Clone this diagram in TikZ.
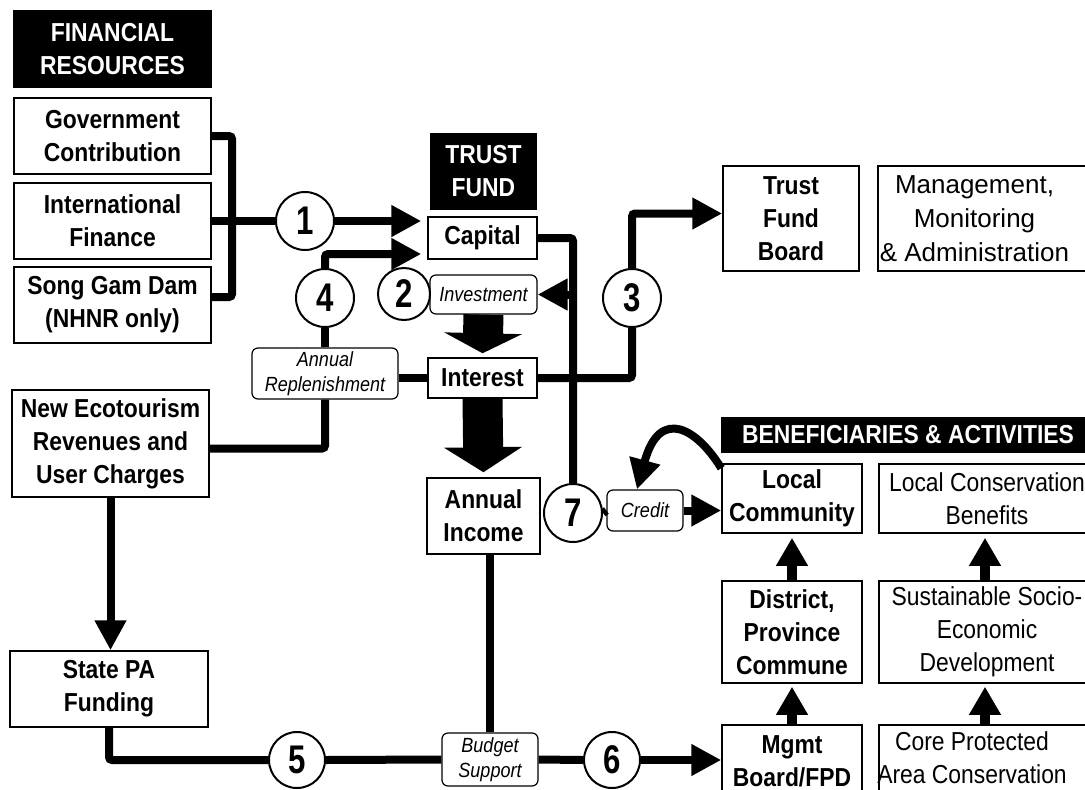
\documentclass[tikz,border=0pt]{standalone}
\usepackage{fontspec}
\setmainfont{Liberation Sans}[FakeStretch=0.88]
\newfontfamily\numfont{Liberation Sans}[FakeStretch=0.78]
\newfontfamily\widefont{Liberation Sans}
\usetikzlibrary{arrows.meta,calc}

\begin{document}
\begin{tikzpicture}[x=1pt,y=-1pt]
\useasboundingbox (0,0) rectangle (1085,790);
\clip (0,0) rectangle (1085,790);
\begin{scope}[
    bbox/.style={draw, line width=1.5pt, fill=white, inner sep=0pt, align=center, font=\fontsize{26}{33}\selectfont\bfseries},
    pbox/.style={draw, line width=1.5pt, fill=white, inner sep=0pt, align=center, font=\fontsize{26}{33}\selectfont},
    hbox/.style={fill=black, text=white, inner sep=0pt, align=center, font=\fontsize{26}{33}\selectfont\bfseries},
    ibox/.style={draw, line width=1.2pt, rounded corners=6pt, fill=white, inner sep=0pt, align=center, font=\fontsize{20.5}{25}\selectfont\itshape},
    numc/.style={circle, draw, line width=2pt, fill=white, minimum size=58pt, inner sep=0pt, font=\numfont\fontsize{40}{40}\selectfont\bfseries},
    conn/.style={line width=8pt, rounded corners=3pt},
    tip/.style={-{Triangle[length=30pt,width=30pt]}},
    uptip/.style={line width=10pt, -{Triangle[length=28pt,width=30pt]}},
    fat/.style={line width=40pt, -{Triangle[length=#1,width=77pt]}},
    fat/.default=22pt
]
% Financial resources
\node[hbox, minimum width=199pt, minimum height=78pt] (finres) at (112.5,49) {FINANCIAL\\RESOURCES};
\node[bbox, minimum width=197pt, minimum height=76pt] (gov) at (112.5,136) {Government\\Contribution};
\node[bbox, minimum width=197pt, minimum height=76pt] (intl) at (112.5,221) {International\\Finance};
\node[bbox, minimum width=197pt, minimum height=76pt] (dam) at (112.5,305) {Song Gam Dam\\(NHNR only)};
\node[bbox, minimum width=197pt, minimum height=107pt] (eco) at (110.5,443.5) {New Ecotourism\\Revenues and\\User Charges};
\node[bbox, minimum width=198pt, minimum height=76pt] (state) at (109,689) {State PA\\Funding};

% Trust fund
\node[hbox, minimum width=107pt, minimum height=77pt] (trust) at (483.5,171.5) {TRUST\\FUND};
\node[bbox, minimum width=109pt, minimum height=42pt] (capital) at (482.5,238) {Capital};
\node[ibox, minimum width=107pt, minimum height=39pt] (invest) at (483.5,294.5) {Investment};
\node[bbox, minimum width=109pt, minimum height=40pt] (interest) at (482.5,378) {Interest};
\node[bbox, minimum width=113pt, minimum height=76pt] (income) at (483.5,516) {Annual\\Income};
\node[ibox, minimum width=146pt, minimum height=51pt] (repl) at (325,373.5) {Annual\\Replenishment};
\node[ibox, minimum width=96pt, minimum height=53pt] (budget) at (490,759.5) {Budget\\Support};
\node[ibox, minimum width=76pt, minimum height=41pt] (credit) at (645,510.5) {Credit};

% Board and beneficiaries
\node[bbox, minimum width=136pt, minimum height=105pt] (board) at (791,218.5) {Trust\\Fund\\Board};
\node[pbox, minimum width=217pt, minimum height=105pt] (manage) at (986.5,218.5) {};
\node[align=center, font=\widefont\fontsize{26}{34}\selectfont] at ([xshift=-12pt]manage.center) {Management,\\Monitoring\\\& Administration};
\node[hbox, minimum width=374pt, minimum height=36pt] (benef) at (908,435) {BENEFICIARIES \& ACTIVITIES};
\node[bbox, minimum width=140pt, minimum height=69pt] (local) at (792,498.5) {Local\\Community};
\node[bbox, minimum width=140pt, minimum height=102pt] (district) at (792,632) {District,\\Province\\Commune};
\node[bbox, minimum width=140pt, minimum height=72pt] (mboard) at (792,761) {Mgmt\\Board/FPD};
\node[pbox, minimum width=216pt, minimum height=69pt] (lcb) at (987,498.5) {Local Conservation\\Benefits};
\node[pbox, minimum width=216pt, minimum height=102pt] (socio) at (987,632) {Sustainable Socio-\\Economic\\Development};
\node[pbox, minimum width=216pt, minimum height=72pt] (core) at (987,761) {};
\node[align=center, font=\fontsize{26}{33}\selectfont] at ([xshift=-15pt,yshift=3pt]core.center) {Core Protected\\Area Conservation};

% Numbered flows
\node[numc] (n1) at (305,221) {1};
\node[numc, minimum size=52pt] (n2) at (404,294) {2};
\node[numc] (n3) at (632,298) {3};
\node[numc] (n4) at (325,298) {4};
\node[numc, minimum size=56pt] (n5) at (297,760) {5};
\node[numc, minimum size=56pt] (n6) at (612,760) {6};
\node[numc] (n7) at (573,513) {7};
\coordinate (bus) at (232,221);

% Connectors
\draw[conn] (gov.east) -| (bus) |- ([yshift=8pt]dam.east);
\draw[conn] (intl.east) -- (n1.west);
\draw[conn, tip, shorten >=6pt] (n1.east) -- (n1.east -| capital.west);
\draw[conn, tip, shorten >=6pt] (n4.north) |- ([yshift=-16pt]capital.west);
\draw[conn] (n4.south) -- (repl.north);
\draw[conn] (interest.west) -- (interest.west -| repl.east);
\draw[conn] (repl.south) |- ([yshift=-5pt]eco.east);
\draw[conn] (capital.east) -| (n7.north);
\draw[conn, tip] (n7.north |- invest.east) -- (invest.east);
\draw[conn] (interest.east) -| (n3.south);
\draw[conn, tip] (n3.north) |- ([yshift=5pt]board.west);
\draw[fat=20pt, shorten >=4pt] (invest.south) -- (interest.north);
\draw[fat=25pt, shorten >=5pt] (interest.south) -- (income.north);
\draw[conn] (n7.east) -- (credit.west);
\draw[conn, tip] (credit.east) -- (credit.east -| local.west);
\draw[conn, tip] ([yshift=-5pt]local.north west) .. controls (698,430) and (660,405) .. ([xshift=-8pt]credit.north);
\draw[conn, tip] (eco.south) -- (eco.south |- state.north);
\draw[conn] (state.south) |- (n5.west);
\draw[conn] (n5.east) -- (budget.west);
\draw[conn] (budget.north |- income.south) -- (budget.north);
\draw[conn] (budget.east) -- (n6.west);
\draw[conn, tip] (n6.east) -- (n6.east -| mboard.west);
\draw[uptip, shorten >=3pt] (mboard.north) -- (district.south);
\draw[uptip, shorten >=4pt] (district.north) -- (local.south);
\draw[uptip, shorten >=3pt] ([xshift=-2pt]core.north) -- ([xshift=-2pt]socio.south);
\draw[uptip, shorten >=4pt] ([xshift=-2pt]socio.north) -- ([xshift=-2pt]lcb.south);
\end{scope}
\end{tikzpicture}
\end{document}
